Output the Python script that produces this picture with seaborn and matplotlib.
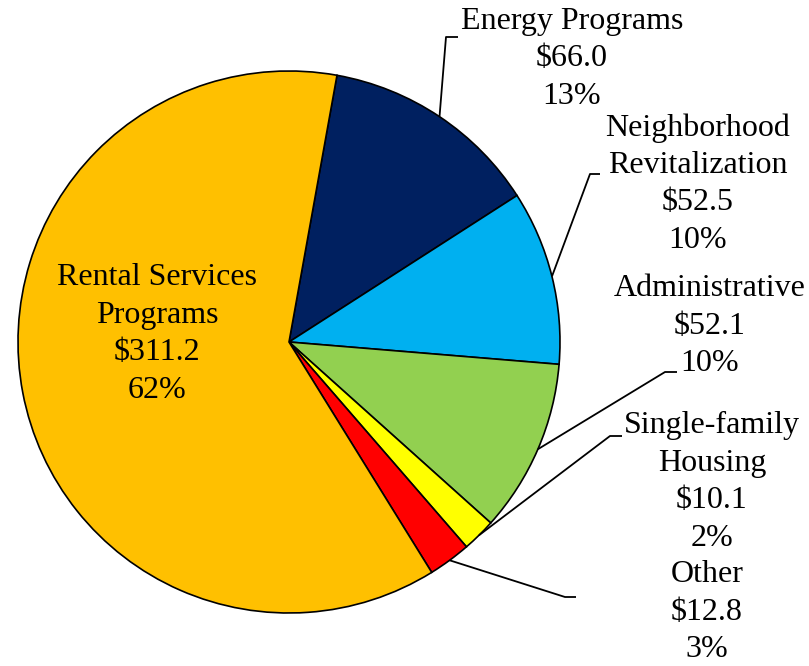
import numpy as np
import matplotlib
matplotlib.use("Agg")
import matplotlib.pyplot as plt
import seaborn as sns

# ─── Data ─────────────────────────────────────────────────────────────────────
categories = ["Energy Programs", "Neighborhood\nRevitalization", "Administrative",
              "Single-family\nHousing", "Other", "Rental Services\nPrograms"]
values = [66.0, 52.5, 52.1, 10.1, 12.8, 311.2]
colors = ["#002060", "#00B0F0", "#92D050", "#FFFF00", "#FF0000", "#FFC000"]

# label layout in pixel space (x, y from top); None = inside label
label_pos = [(572, 59), (698, 184), (710, 326), (712, 482), (707, 612), (157, 334)]
kinks = [(446, 37, 458), (590, 174, 600), (665, 372, 677), (610, 436, 622),
         (565, 597, 576), None]

W, H = 809, 666
sns.set_theme(style="white")
plt.rcParams["font.family"] = ["Liberation Serif", "DejaVu Serif"]

fig = plt.figure(figsize=(W / 100, H / 100), dpi=100)
ax = fig.add_axes([0, 0, 1, 1])

cx, cy, r = 289, H - 342, 271
wedges, _ = ax.pie(values, colors=colors, counterclock=False, startangle=79.8,
                   center=(cx, cy), radius=r, frame=True,
                   wedgeprops=dict(edgecolor="black", linewidth=1.2))
ax.set_xlim(0, W)
ax.set_ylim(0, H)
ax.set_aspect("equal")
ax.axis("off")

total = sum(values)
for w, name, val, pos, kink in zip(wedges, categories, values, label_pos, kinks):
    txt = f"{name}\n\\${val:.1f}\n{val / total * 100:.0f}%"
    ax.text(pos[0], H - pos[1], txt, ha="center", va="center", fontsize=23,
            linespacing=1.38, color="black")
    if kink is None:
        continue
    mid = np.deg2rad((w.theta1 + w.theta2) / 2)
    x0, y0 = cx + r * np.cos(mid), cy + r * np.sin(mid)
    kx, ky, ex = kink
    ax.plot([x0, kx, ex], [y0, H - ky, H - ky], color="black", lw=1.3,
            solid_capstyle="butt")

fig.savefig("out.png", dpi=100)
